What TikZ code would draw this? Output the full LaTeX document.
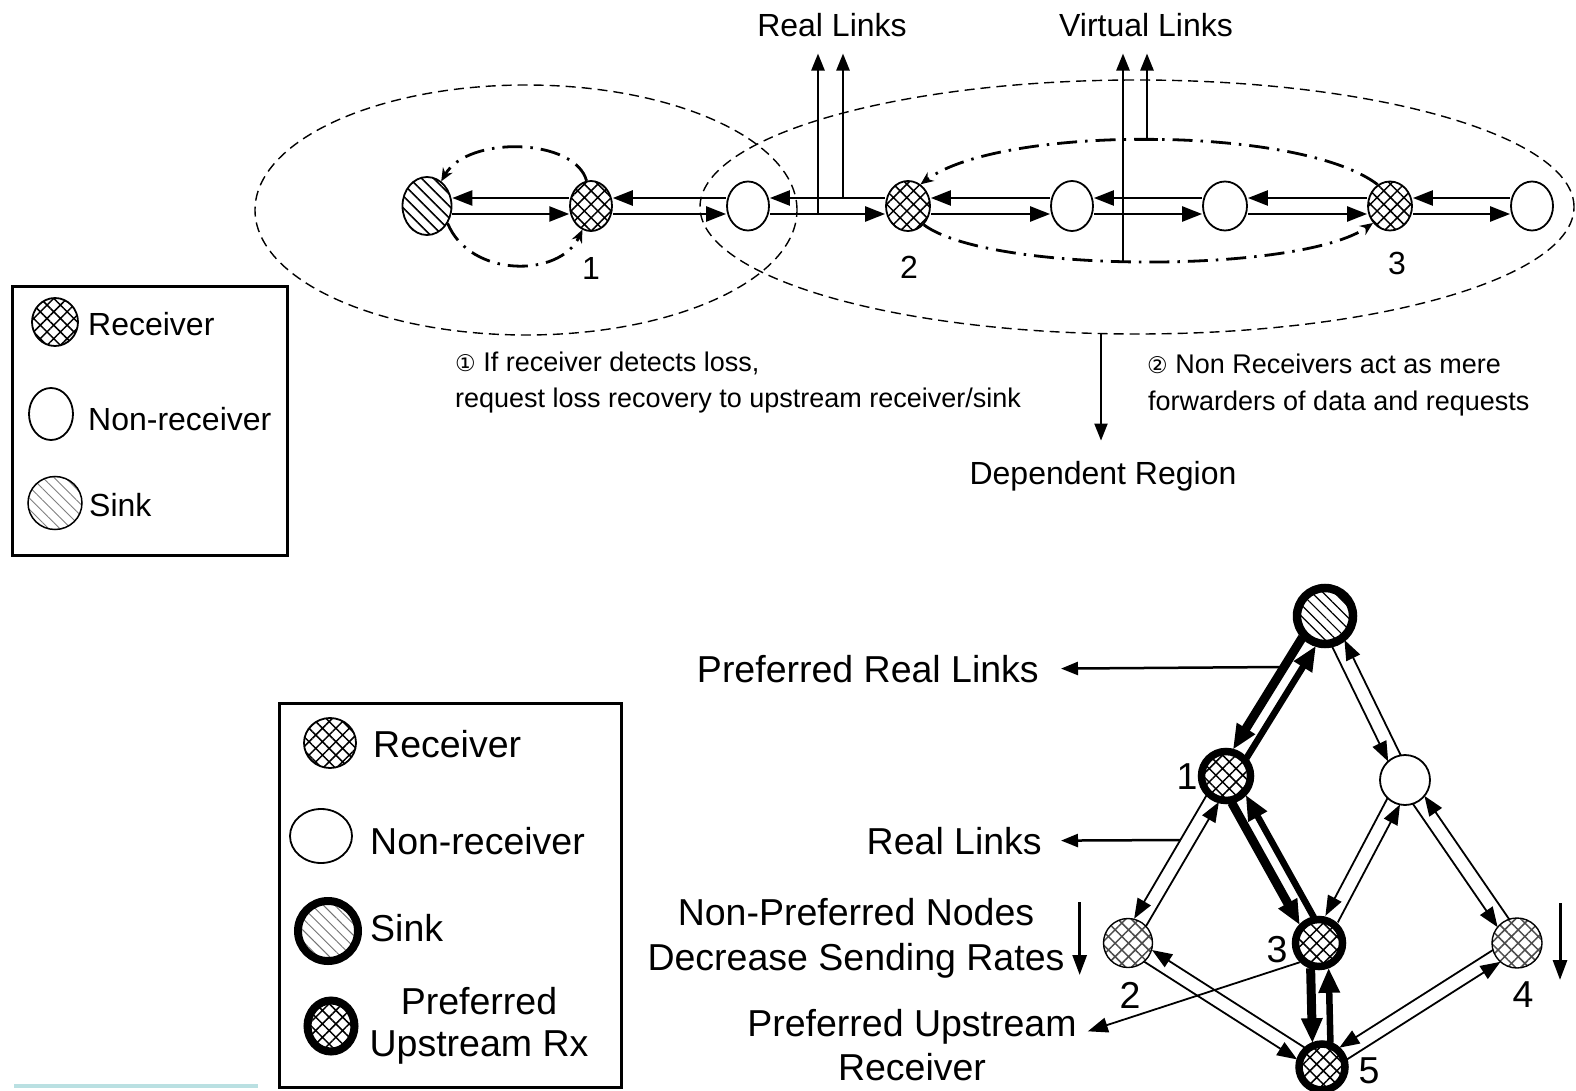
\documentclass[tikz,border=0pt]{standalone}
\usepackage{fontspec}
\setmainfont{Liberation Sans}
\newfontfamily\circfont{DejaVu Sans}
\usetikzlibrary{shapes.geometric,arrows.meta,patterns.meta,calc}
\definecolor{stripe}{RGB}{186,224,226}

% one of the two parallel lines joining an upper node #2 and a lower node #3,
% shifted sideways by #4 (positive: east side of a downward link)
\newcommand\pairline[4]{%
  \draw[#1] ($(#2)!#4!90:(#3)$) -- ($(#3)!#4!-90:(#2)$);}

% the two horizontal links between neighbours of the chain
\newcommand\chainpair[2]{%
  \draw[chainlink] ([yshift=8pt]#2.west) -- ([yshift=8pt]#1.east);
  \draw[chainlink] ([yshift=-8pt]#1.east) -- ([yshift=-8pt]#2.west);}

\begin{document}
\begin{tikzpicture}[x=1pt,y=-1pt,
  every node/.style={inner sep=0pt},
  t32/.style={font=\fontsize{32}{38}\selectfont},
  t27/.style={font=\fontsize{27}{33}\selectfont},
  t37/.style={font=\fontsize{37.5}{45}\selectfont},
  xhatch/.style={pattern={Hatch[angle=45,distance=9.5pt,line width=1.5pt]}},
  nd/.style={ellipse, draw, line width=1.8pt},
  rcv/.style={nd, xhatch},
  nrc/.style={nd, fill=white},
  snk/.style={nd, pattern={Lines[angle=-45,distance=8.5pt,line width=1.6pt]}},
  snklight/.style={nd, line width=1.5pt, pattern color=black!50,
    pattern={Lines[angle=-45,distance=8pt,line width=0.9pt]}},
  pref/.style={circle, draw, line width=7.5pt},
  chainlink/.style={line width=2.5pt, -{Triangle[length=20pt,width=15pt]}},
  uparrow/.style={line width=2.5pt, -{Triangle[length=17pt,width=13pt]}},
  vlink/.style={line width=2.8pt, dash pattern=on 20pt off 8pt on 2.5pt off 8pt,
    -{Stealth[length=13pt,width=11pt]}},
  depregion/.style={line width=1.4pt, dash pattern=on 10pt off 6pt},
  frame/.style={line width=3pt},
  thinlink/.style={line width=1.8pt, >={Triangle[length=20pt,width=15pt]}},
  boldlink/.style={line width=#1, >={Triangle[length=25pt,width=20pt]}},
  downarrow/.style={line width=3pt, -{Triangle[length=20pt,width=14pt]}},
  labelarrow/.style={line width=2.5pt, -{Triangle[length=17pt,width=13pt]}}
]
\useasboundingbox (0,0) rectangle (1576,1091);
\fill[white] (0,0) rectangle (1576,1091);

% ================= upper figure =================
% dependent regions
\draw[depregion] (526,210) ellipse [x radius=271pt, y radius=125pt];
\draw[depregion] (1137,207) ellipse [x radius=437pt, y radius=127pt];

% chain of nodes
\node[snk, minimum width=49pt, minimum height=58pt] (s0) at (427,206) {};
\node[rcv, minimum width=42pt, minimum height=50pt] (r1) at (591,206) {};
\node[nrc, minimum width=42pt, minimum height=49pt] (a)  at (748,206) {};
\node[rcv, minimum width=44pt, minimum height=50pt] (r2) at (908,206) {};
\node[nrc, minimum width=42pt, minimum height=50pt] (b)  at (1072,206) {};
\node[nrc, minimum width=44pt, minimum height=49pt] (c)  at (1225,206) {};
\node[rcv, minimum width=44pt, minimum height=49pt] (r3) at (1390,206) {};
\node[nrc, minimum width=42pt, minimum height=49pt] (d)  at (1532,206) {};

\chainpair{s0}{r1}
\chainpair{r1}{a}
\chainpair{a}{r2}
\chainpair{r2}{b}
\chainpair{b}{c}
\chainpair{c}{r3}
\chainpair{r3}{d}

% node numbers
\node[t32] at (591,268) {1};
\node[t32] at (909,267) {2};
\node[t32] at (1397,263) {3};

% virtual links (loss recovery requests)
\draw[vlink] (r1.100) .. controls (575,138) and (468,135) .. (s0.60);
\draw[vlink] (s0.-40) .. controls (470,278) and (560,278) .. (r1.-110);
\draw[vlink] (r3.120) .. controls (1300,125) and (1000,125) .. (r2.60);
\draw[vlink] (r2.-50) .. controls (990,274) and (1300,274) .. (r3.-135);

% labels with their pointers
\node[t32, anchor=base] (rltxt) at (832,37) {Real Links};
\node[t32, anchor=base] (vltxt) at (1146,37) {Virtual Links};
\coordinate (rl1) at (818,214);
\coordinate (rl2) at (843,198);
\coordinate (vl1) at (1123,262);
\coordinate (vl2) at (1147,140);
\draw[uparrow] (rl1) -- ($(rltxt.south)+(-14,16)$);
\draw[uparrow] (rl2) -- ($(rltxt.south)+(11,16)$);
\draw[uparrow] (vl1) -- ($(vltxt.south)+(-23,16)$);
\draw[uparrow] (vl2) -- ($(vltxt.south)+(1,16)$);
\draw[line width=3pt] ($(vl2)+(-12,0)$) -- ($(vl2)+(11,0)$);

\node[t32, anchor=base] (dep) at (1103,484) {Dependent Region};
\coordinate (depstart) at (1101,334);
\draw[line width=2pt, -{Triangle[length=17pt,width=13pt]}] (depstart) -- ($(dep.north)+(-2,-20)$);

\node[t27, anchor=base west] (ann1a) at (455,371) {{\circfont\fontsize{23}{23}\selectfont ①} If receiver detects loss,};
\node[t27, anchor=base west] (ann1b) at (455,407) {request loss recovery to upstream receiver/sink};
\node[t27, anchor=base west] (ann2a) at (1147,373) {{\circfont\fontsize{23}{23}\selectfont ②} Non Receivers act as mere};
\node[t27, anchor=base west] (ann2b) at (1148,410) {forwarders of data and requests};

% legend of the upper figure
\draw[frame] (12,286) rectangle (287,555);
\node[rcv, minimum width=46pt, minimum height=48pt] (lgr) at (55,322) {};
\node[t32, anchor=base west] at (88,335) {Receiver};
\node[nrc, minimum width=44pt, minimum height=52pt] (lgn) at (51,414) {};
\node[t32, anchor=base west] at (88,430) {Non-receiver};
\node[snklight, minimum width=54pt, minimum height=53pt] (lgs) at (55,503) {};
\node[t32, anchor=base west] at (89,516) {Sink};

% ================= lower figure =================
\node[pref, line width=8.5pt, minimum size=56pt,
  pattern={Lines[angle=-45,distance=8pt,line width=1.2pt]}] (T) at (1325,616) {};
\node[pref, minimum size=49pt, xhatch] (n1) at (1226,776) {};
\node[nrc, minimum width=50pt, minimum height=50pt] (nr) at (1405,780) {};
\node[rcv, line width=1.4pt, pattern color=black!70, minimum width=49pt, minimum height=49pt] (n2) at (1128,943) {};
\node[pref, minimum size=47pt, xhatch] (n3) at (1319,943) {};
\node[rcv, line width=1.4pt, pattern color=black!70, minimum width=50pt, minimum height=50pt] (n4) at (1517,943) {};
\node[pref, minimum size=46pt, xhatch] (n5) at (1322,1067) {};

% links: preferred (bold) and ordinary (thin)
\pairline{boldlink=9pt,->,shorten <=30pt,shorten >=26pt}{T}{n1}{-8pt}
\pairline{boldlink=6.5pt,<-,shorten <=30pt,shorten >=26pt}{T}{n1}{8pt}
\pairline{thinlink,->,shorten <=30pt,shorten >=24pt}{T}{nr}{-7pt}
\pairline{thinlink,<-,shorten <=30pt,shorten >=24pt}{T}{nr}{7pt}
\pairline{thinlink,->,shorten <=26pt,shorten >=24pt}{n1}{n2}{-7pt}
\pairline{thinlink,<-,shorten <=26pt,shorten >=24pt}{n1}{n2}{7pt}
\pairline{boldlink=9pt,->,shorten <=26pt,shorten >=25pt}{n1}{n3}{-8pt}
\pairline{boldlink=6.5pt,<-,shorten <=26pt,shorten >=25pt}{n1}{n3}{8pt}
\pairline{thinlink,->,shorten <=24pt,shorten >=27pt}{nr}{n3}{-7pt}
\pairline{thinlink,<-,shorten <=24pt,shorten >=27pt}{nr}{n3}{7pt}
\pairline{thinlink,->,shorten <=24pt,shorten >=24pt}{nr}{n4}{-7pt}
\pairline{thinlink,<-,shorten <=24pt,shorten >=24pt}{nr}{n4}{7pt}
\pairline{boldlink=9pt,->,shorten <=25pt,shorten >=24pt}{n3}{n5}{-9pt}
\pairline{boldlink=6.5pt,<-,shorten <=25pt,shorten >=24pt}{n3}{n5}{9pt}
\pairline{thinlink,->,shorten <=24pt,shorten >=25pt}{n2}{n5}{-7pt}
\pairline{thinlink,<-,shorten <=24pt,shorten >=25pt}{n2}{n5}{7pt}
\pairline{thinlink,->,shorten <=24pt,shorten >=25pt}{n4}{n5}{-7pt}
\pairline{thinlink,<-,shorten <=24pt,shorten >=25pt}{n4}{n5}{7pt}

% node numbers
\node[t37] at (1187,777) {1};
\node[t37] at (1130,995) {2};
\node[t37] at (1277,950) {3};
\node[t37] at (1523,995) {4};
\node[t37] at (1369,1071) {5};

% annotations
\node[t37, anchor=base east] (prl) at (1039,682) {Preferred Real Links};
\node[t37, anchor=base east] (rlk) at (1042,854) {Real Links};
\node[t37, anchor=base] (np1) at (856,925) {Non-Preferred Nodes};
\node[t37, anchor=base] (np2) at (856,970) {Decrease Sending Rates};
\node[t37, anchor=base] (pu1) at (912,1036) {Preferred Upstream};
\node[t37, anchor=base] (pu2) at (912,1080) {Receiver};

\coordinate (prlfoot) at (1281,667);
\coordinate (rlkfoot) at (1180,840);
\draw[labelarrow] (prlfoot) -- ($(prl.east)+(22,0)$);
\draw[labelarrow] (rlkfoot) -- ($(rlk.east)+(19,0)$);
\draw[thinlink,->] (n3.-135) -- ($(pu1.east)+(11,5)$);
\draw[downarrow] ($(np2.base east)+(15,-68)$) -- ($(np2.base east)+(15,5)$);
\draw[downarrow] ($(n4)+(43,-40)$) -- ($(n4)+(43,37)$);

% legend of the lower figure
\draw[frame] (279,703) rectangle (621,1087);
\node[rcv, minimum width=52pt, minimum height=50pt] (lg2r) at (330,743) {};
\node[t37, anchor=base west] at (373,757) {Receiver};
\node[nrc, minimum width=62pt, minimum height=54pt] (lg2n) at (321,836) {};
\node[t37, anchor=base west] at (370,854) {Non-receiver};
\node[pref, line width=8pt, minimum size=60pt, pattern color=black!55,
  pattern={Lines[angle=-45,distance=8pt,line width=0.9pt]}] (lg2s) at (328,931) {};
\node[t37, anchor=base west] at (370,941) {Sink};
\node[ellipse, draw, line width=8pt, minimum width=47pt, minimum height=51pt, xhatch] (lg2p) at (331,1026) {};
\node[t37, anchor=base] at (479,1014) {Preferred};
\node[t37, anchor=base] at (479,1056) {Upstream Rx};

% thin tinted strip along the lower edge
\fill[stripe] (14,1084) rectangle (258,1088);
\end{tikzpicture}
\end{document}
